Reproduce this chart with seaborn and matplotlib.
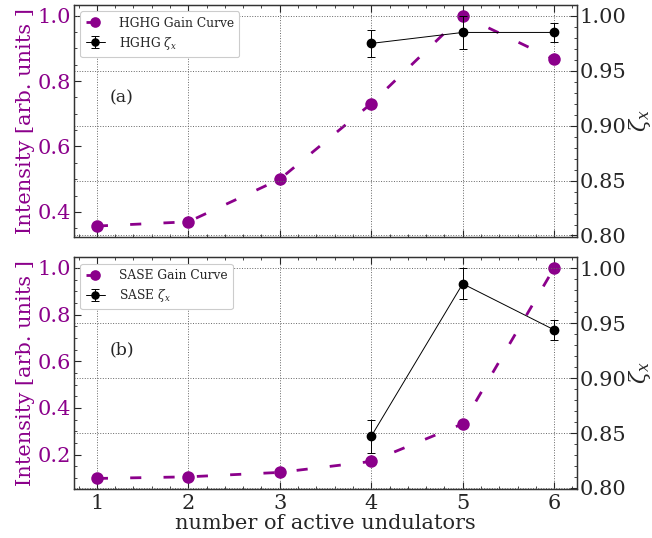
import numpy as np
import pandas as pd
import matplotlib
matplotlib.use("Agg")
import matplotlib.pyplot as plt
import seaborn as sns
from matplotlib.ticker import AutoMinorLocator, MultipleLocator

sns.set_style("ticks")
plt.rcParams["font.family"] = ["DejaVu Serif"]
plt.rcParams["mathtext.fontset"] = "dejavuserif"

undulators = [1, 2, 3, 4, 5, 6]
hghg_intensity = [0.357, 0.370, 0.500, 0.731, 1.000, 0.866]
sase_intensity = [0.098, 0.105, 0.124, 0.171, 0.332, 1.000]

zeta_undulators = [4, 5, 6]
hghg_zeta = [0.975, 0.985, 0.985]
hghg_zeta_err = [0.012, 0.015, 0.009]
sase_zeta = [0.847, 0.986, 0.944]
sase_zeta_err = [0.015, 0.014, 0.009]

panels = [
    ("HGHG", hghg_intensity, hghg_zeta, hghg_zeta_err, "(a)"),
    ("SASE", sase_intensity, sase_zeta, sase_zeta_err, "(b)"),
]

PURPLE = "#8b008b"

fig, axes = plt.subplots(2, 1, figsize=(6.52, 5.38), dpi=100, sharex=True)
fig.subplots_adjust(left=0.1135, right=0.885, top=0.9907, bottom=0.0911, hspace=0.09)

for ax, (name, inten, zeta, zerr, tag) in zip(axes, panels):
    df = pd.DataFrame({"n": undulators, "I": inten})
    sns.lineplot(data=df, x="n", y="I", ax=ax, color=PURPLE, marker="o",
                 markersize=9, markeredgewidth=0, linewidth=2,
                 label=f"{name} Gain Curve", legend=False)
    ax.lines[0].set_dashes((4, 8))
    ax.set_xlim(0.75, 6.25)
    ax.set_xlabel("")
    ax.set_ylabel("Intensity [arb. units ]", color=PURPLE, fontsize=15, labelpad=2)
    ax.tick_params(axis="y", labelcolor=PURPLE, labelsize=15, pad=2)
    ax.tick_params(axis="x", labelsize=15)
    ax.tick_params(which="both", direction="in", top=True)
    ax.tick_params(which="major", length=5)
    ax.tick_params(which="minor", length=2.5)
    ax.xaxis.set_major_locator(MultipleLocator(1))
    ax.xaxis.set_minor_locator(AutoMinorLocator(5))
    ax.yaxis.set_minor_locator(AutoMinorLocator(4))
    ax.grid(True, which="major", axis="x", color="0.4", linestyle=":", linewidth=0.7)
    ax.text(0.07, 0.6, tag, transform=ax.transAxes, fontsize=12.5, ha="left", va="center")

    ax2 = ax.twinx()
    ax2.errorbar(zeta_undulators, zeta, yerr=zerr, color="black", marker="o",
                 markersize=6, linewidth=0.7, capsize=3, elinewidth=0.7,
                 capthick=0.7, label=f"{name} $\\zeta_x$")
    ax2.set_ylim(0.799, 1.01)
    ax2.set_yticks([0.80, 0.85, 0.90, 0.95, 1.00])
    ax2.yaxis.set_minor_locator(AutoMinorLocator(5))
    ax2.tick_params(which="both", direction="in", labelsize=15, pad=2)
    ax2.tick_params(which="major", length=5)
    ax2.tick_params(which="minor", length=2.5)
    ax2.set_ylabel("$\\zeta_x$", fontsize=16, labelpad=0)
    ax2.grid(True, which="major", axis="y", color="0.4", linestyle=":", linewidth=0.7)
    for sp in list(ax.spines.values()) + list(ax2.spines.values()):
        sp.set_linewidth(0.9)
        sp.set_color("0.2")

    h1, l1 = ax.get_legend_handles_labels()
    h2, l2 = ax2.get_legend_handles_labels()
    leg = ax2.legend(h1 + h2, l1 + l2, loc="upper left", fontsize=8.8,
                     frameon=True, framealpha=1, edgecolor="0.8",
                     borderpad=0.45, handlelength=1.6, handletextpad=1.1,
                     labelspacing=0.4, markerscale=0.85)
    leg.get_frame().set_linewidth(0.8)

axes[1].set_xlabel("number of active undulators", fontsize=15, labelpad=1)
axes[0].tick_params(axis="x", labelbottom=False)

fig.savefig("out.png", dpi=100)
